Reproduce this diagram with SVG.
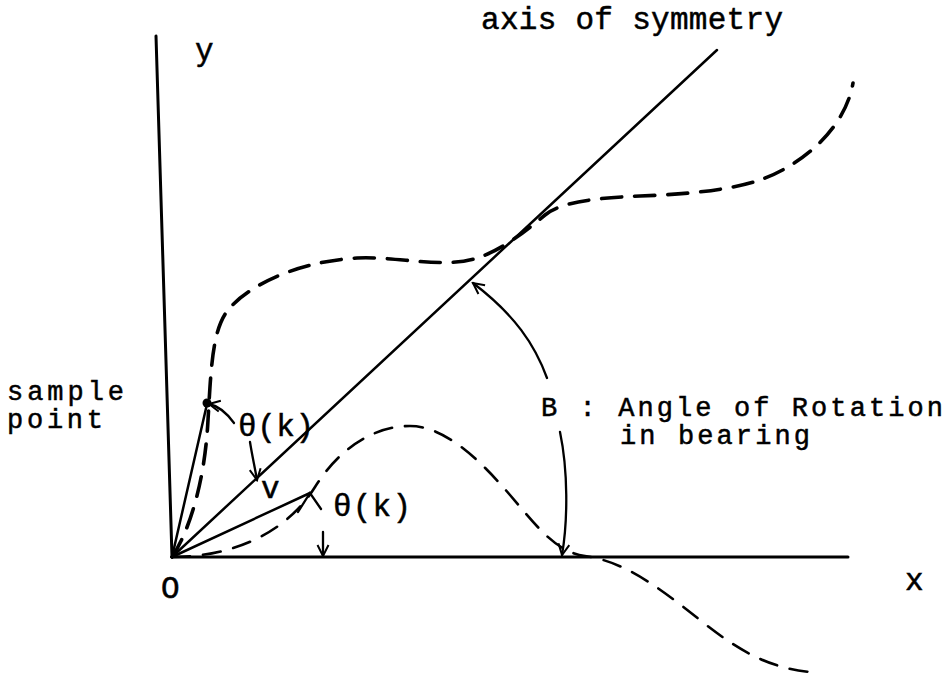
<svg xmlns="http://www.w3.org/2000/svg" width="949" height="674" viewBox="0 0 949 674">
<style>
.ax{fill:none;stroke:#000;stroke-width:3;stroke-linecap:round}
.ln{fill:none;stroke:#000;stroke-width:2.5;stroke-linecap:round}
.arc{fill:none;stroke:#000;stroke-width:2.3;stroke-linecap:round}
.dash1{fill:none;stroke:#000;stroke-width:3.6;stroke-dasharray:20 13;stroke-linecap:round}
.dash2{fill:none;stroke:#000;stroke-width:2.6;stroke-dasharray:18 13;stroke-linecap:round}
.t{font-family:"Liberation Mono","Courier New",monospace;font-size:31px;fill:#000;stroke:#000;stroke-width:0.5}
.s{font-size:27px}
</style>
<defs>
<marker id="arr" viewBox="0 0 14 14" refX="12" refY="7" markerWidth="14" markerHeight="14" orient="auto" markerUnits="userSpaceOnUse">
<path d="M1,1.5 L12,7 L1,12.5" fill="none" stroke="#000" stroke-width="2"/>
</marker>
</defs>
<rect width="949" height="674" fill="#fff"/>
<g id="axes">
<path class="ax" d="M156,36 L172,557"/>
<path class="ax" d="M172,557 L848,557"/>
</g>
<g id="symmetry-axis">
<path class="ln" d="M172,557 L717,50"/>
</g>
<g id="curves">
<path id="upper-curve" class="dash1" d="M172,557 C190,530 205,480 208,420 C211,370 212,330 228,310 C244,290 290,262 357,258 C400,256 445,270 480,257 C500,250 520,236 545,215 C560,203 590,198 640,196 C690,194 730,190 760,180 C800,166 845,130 853,83"/>
<path id="lower-curve" class="dash2" d="M172,557 C230,557 285,535 315,487 C340,447 375,426 410,426 C445,426 480,460 510,495 C535,524 555,552 585,556 C620,561 650,580 700,620 C740,652 770,668 810,672"/>
</g>
<g id="sample-point">
<circle cx="207" cy="403" r="4.5" fill="#000"/>
</g>
<g id="connectors">
<path class="ln" d="M172,557 L207,404"/>
<path class="ln" d="M172,557 L310,493"/>
<path class="arc" d="M234,423 C226,412 219,406 209,404" marker-end="url(#arr)"/>
<path class="arc" d="M250,442 C252,455 255,468 257,480" marker-end="url(#arr)"/>
<path class="arc" d="M298,512 L310,493 L321,509"/>
<path class="arc" d="M323,532 L323,556" marker-end="url(#arr)"/>
<path class="arc" d="M547,378 C535,345 515,315 473,283" marker-end="url(#arr)"/>
<path class="arc" d="M560,432 C568,470 568,520 562,555" marker-end="url(#arr)"/>
</g>
<g id="labels">
<text class="t" x="481" y="29" textLength="302" lengthAdjust="spacing">axis of symmetry</text>
<text class="t" x="195" y="60">y</text>
<text class="t s" x="7" y="400" textLength="117" lengthAdjust="spacing">sample</text>
<text class="t s" x="7" y="428" textLength="96" lengthAdjust="spacing">point</text>
<text class="t" x="238" y="436" textLength="76" lengthAdjust="spacing">θ(k)</text>
<text class="t" x="261" y="498">v</text>
<text class="t" x="333" y="516" textLength="78" lengthAdjust="spacing">θ(k)</text>
<text class="t s" x="541" y="416" textLength="402" lengthAdjust="spacing">B : Angle of Rotation</text>
<text class="t s" x="620" y="444" textLength="190" lengthAdjust="spacing">in bearing</text>
<text class="t" x="161" y="598">O</text>
<text class="t" x="905" y="590">x</text>
</g>
</svg>
